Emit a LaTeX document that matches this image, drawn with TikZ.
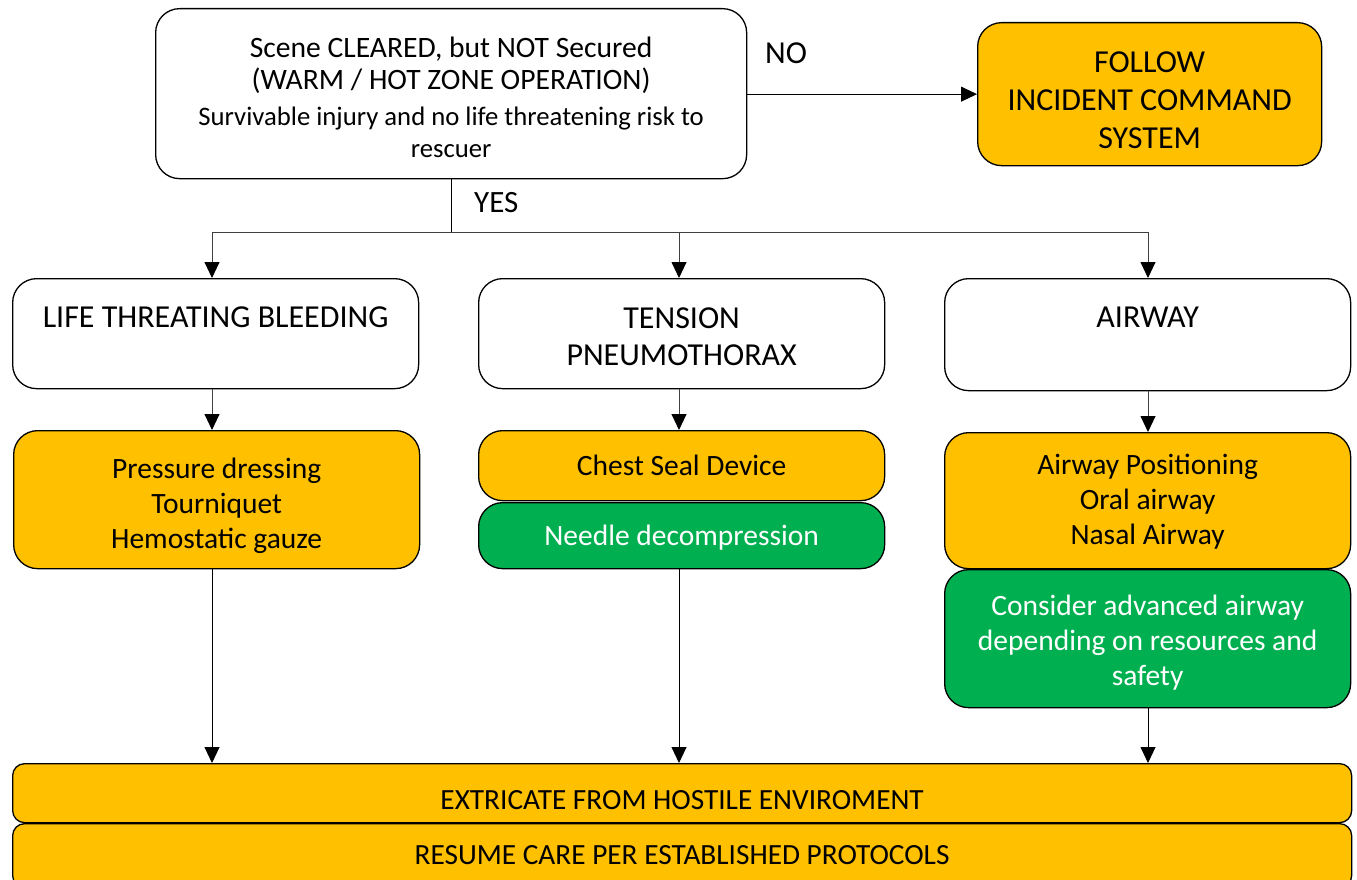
\documentclass[tikz,border=0pt]{standalone}
\usepackage{fontspec}
\setmainfont{Carlito}
\usetikzlibrary{arrows.meta}
\definecolor{orng}{HTML}{FFC000}
\definecolor{grn}{HTML}{00B050}
\newcommand{\topbig}{\fontsize{29.6}{32}\selectfont}
\newcommand{\topsmall}{\fontsize{26.7}{32}\selectfont}
\begin{document}
\begin{tikzpicture}[x=1pt,y=-1pt,
  box/.style={draw=black, line width=1.3pt, rounded corners=24pt, inner sep=0pt, anchor=north west},
  wbox/.style={box, fill=white},
  obox/.style={box, fill=orng},
  gbox/.style={box, fill=grn},
  caps/.style={font=\fontsize{32}{37}\selectfont},
  mixed/.style={font=\fontsize{29.5}{34.7}\selectfont},
  txt/.style={align=center, inner sep=0pt},
  arr/.style={line width=0.9pt, draw=black!75, -{Triangle[width=15pt,length=16pt,color=black]}},
  ln/.style={line width=0.9pt, draw=black!75}]
\useasboundingbox (0,0) rectangle (1357,880);
% top
\node[wbox, minimum width=591pt, minimum height=170pt] (top) at (155,8) {};
\node[txt, anchor=north, font=\topbig] (toptxt) at ([yshift=-29pt]top.north)
  {Scene CLEARED, but NOT Secured\\(WARM / HOT ZONE OPERATION)\\[4pt]\topsmall Survivable injury and no life threatening risk to\\\topsmall rescuer};
\node[obox, minimum width=344pt, minimum height=143pt] (ics) at (977,22) {};
\node[txt, font=\fontsize{32}{38}\selectfont] (icst) at ([yshift=-6pt]ics.center) {FOLLOW\\INCIDENT COMMAND\\SYSTEM};
\draw[arr, draw=black] (top.east |- ics.west) -- (ics.west);
\node[txt, caps, anchor=west] (no) at (765,53) {NO};
% second row
\node[wbox, minimum width=406pt, minimum height=110pt] (b1) at (12,278) {};
\node[txt, caps] (b1t) at (b1.center |- 0,317) {LIFE THREATING BLEEDING};
\node[wbox, minimum width=406pt, minimum height=110pt] (b2) at (478,278) {};
\node[txt, caps] (b2t) at (b2.center |- 0,336.5) {TENSION\\PNEUMOTHORAX};
\node[wbox, minimum width=406pt, minimum height=112pt] (b3) at (944,278) {};
\node[txt, caps] (b3t) at (b3.center |- 0,317) {AIRWAY};
% column axes
\coordinate (c1) at (212,0);
\coordinate (c2) at (679,0);
\coordinate (c3) at (1148,0);
% junction
\coordinate (j) at (top.south |- 0,232);
\draw[ln, draw=black] (top.south) -- (j);
\node[txt, font=\fontsize{31}{36}\selectfont, anchor=west] (yes) at (474,203) {YES};
\draw[ln] (c1 |- j) -- (c3 |- j);
\draw[arr] (c1 |- j) -- (c1 |- b1.north);
\draw[arr] (c2 |- j) -- (c2 |- b2.north);
\draw[arr] (c3 |- j) -- (c3 |- b3.north);
% third row
\node[obox, minimum width=406pt, minimum height=138pt] (o1) at (13,430) {};
\node[txt, mixed] (o1t) at ([yshift=-6pt]o1.center) {Pressure dressing\\Tourniquet\\Hemostatic gauze};
\node[obox, minimum width=406pt, minimum height=70pt] (o2) at (478,430) {};
\node[txt, mixed] (o2t) at (o2.center) {Chest Seal Device};
\node[gbox, minimum width=406pt, minimum height=66pt] (g2) at (478,502) {};
\node[txt, mixed, text=white] (g2t) at ([yshift=-2pt]g2.center) {Needle decompression};
\node[obox, minimum width=406pt, minimum height=136pt] (o3) at (944,432) {};
\node[txt, mixed] (o3t) at ([yshift=-1pt]o3.center) {Airway Positioning\\Oral airway\\Nasal Airway};
\node[gbox, minimum width=406pt, minimum height=138pt] (g3) at (944,569) {};
\node[txt, mixed, text=white] (g3t) at ([yshift=-4pt]g3.center) {Consider advanced airway\\depending on resources and\\safety};
\draw[arr] (c1 |- b1.south) -- (c1 |- o1.north);
\draw[arr] (c2 |- b2.south) -- (c2 |- o2.north);
\draw[arr] (c3 |- b3.south) -- (c3 |- o3.north);
% bottom
\node[obox, minimum width=1339pt, minimum height=59pt, rounded corners=12pt] (e1) at (12,763) {};
\node[txt, font=\fontsize{29.3}{34}\selectfont] (e1t) at ([yshift=-7pt]e1.center) {EXTRICATE FROM HOSTILE ENVIROMENT};
\node[obox, minimum width=1339pt, minimum height=64pt, rounded corners=12pt] (e2) at (12,823) {};
\node[txt, font=\fontsize{29.3}{34}\selectfont] (e2t) at (e1t.center |- 0,855) {RESUME CARE PER ESTABLISHED PROTOCOLS};
\draw[arr, draw=black] (c1 |- o1.south) -- (c1 |- e1.north);
\draw[arr, draw=black] (c2 |- g2.south) -- (c2 |- e1.north);
\draw[arr, draw=black] (c3 |- g3.south) -- (c3 |- e1.north);
\end{tikzpicture}
\end{document}
